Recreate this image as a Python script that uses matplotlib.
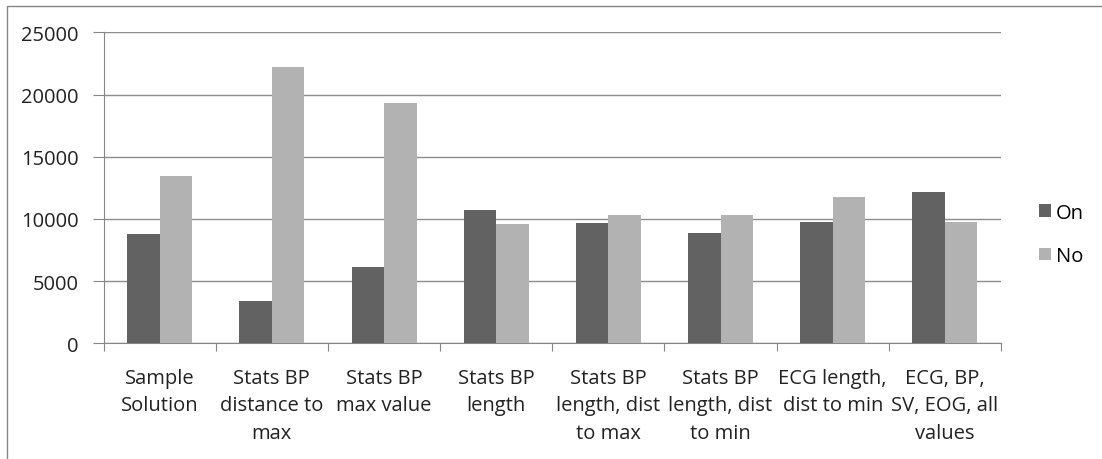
import matplotlib
matplotlib.use("Agg")
import matplotlib.pyplot as plt
from matplotlib.patches import Rectangle
import numpy as np

categories = [
    "Sample\nSolution",
    "Stats BP\ndistance to\nmax",
    "Stats BP\nmax value",
    "Stats BP\nlength",
    "Stats BP\nlength, dist\nto max",
    "Stats BP\nlength, dist\nto min",
    "ECG length,\ndist to min",
    "ECG, BP,\nSV, EOG, all\nvalues",
]
on_values = [8750, 3400, 6150, 10750, 9650, 8900, 9750, 12150]
no_values = [13450, 22200, 19350, 9550, 10300, 10300, 11800, 9750]
series_names = ["On", "No"]
y_ticks = [0, 5000, 10000, 15000, 20000, 25000]

plt.rcParams["font.family"] = ["Open Sans", "DejaVu Sans"]

W, H = 1102, 460
fig = plt.figure(figsize=(W / 100, H / 100), dpi=100)
left, right, top, bottom = 103.6, 1001, 33.3, 344.3
ax = fig.add_axes([left / W, 1 - bottom / H, (right - left) / W, (bottom - top) / H])

# outer chart frame (cut off on the right/bottom)
fig.patches.append(Rectangle((7 / W, -0.1), 1.2, 1 - 7 / H + 0.1, transform=fig.transFigure,
                             fill=False, edgecolor="#868686", linewidth=1))

x = np.arange(len(categories))
bw = 0.29
ax.bar(x - bw / 2, on_values, bw, color="#626262", label=series_names[0], zorder=3)
ax.bar(x + bw / 2, no_values, bw, color="#b2b2b2", label=series_names[1], zorder=3)

ax.set_xlim(-0.5, len(categories) - 0.5)
ax.set_ylim(0, 25000)
ax.set_yticks(y_ticks)
ax.set_yticklabels([str(v) for v in y_ticks], fontsize=14.5, color="#222222")
ax.grid(axis="y", color="#8c8c8c", linewidth=1, zorder=0)

ax.set_xticks(np.arange(len(categories) + 1) - 0.5, minor=False)
ax.set_xticklabels([])
ax.set_xticks(x, minor=True)
ax.set_xticklabels(categories, minor=True, fontsize=14.5, color="#222222", linespacing=1.52)
ax.tick_params(axis="x", which="major", length=6, color="#868686", direction="out")
ax.tick_params(axis="x", which="minor", length=0, pad=17.5)
ax.tick_params(axis="y", length=8, color="#868686", pad=10)

for side in ["top", "right"]:
    ax.spines[side].set_visible(False)
for side in ["left", "bottom"]:
    ax.spines[side].set_color("#868686")

ax.legend(loc="center left", bbox_to_anchor=(1.042, 0.350), frameon=False, fontsize=14.5,
          borderpad=0, borderaxespad=0, handlelength=0.6, handleheight=0.6,
          handletextpad=0.25, labelspacing=1.15)

fig.savefig("out.png", dpi=100)
